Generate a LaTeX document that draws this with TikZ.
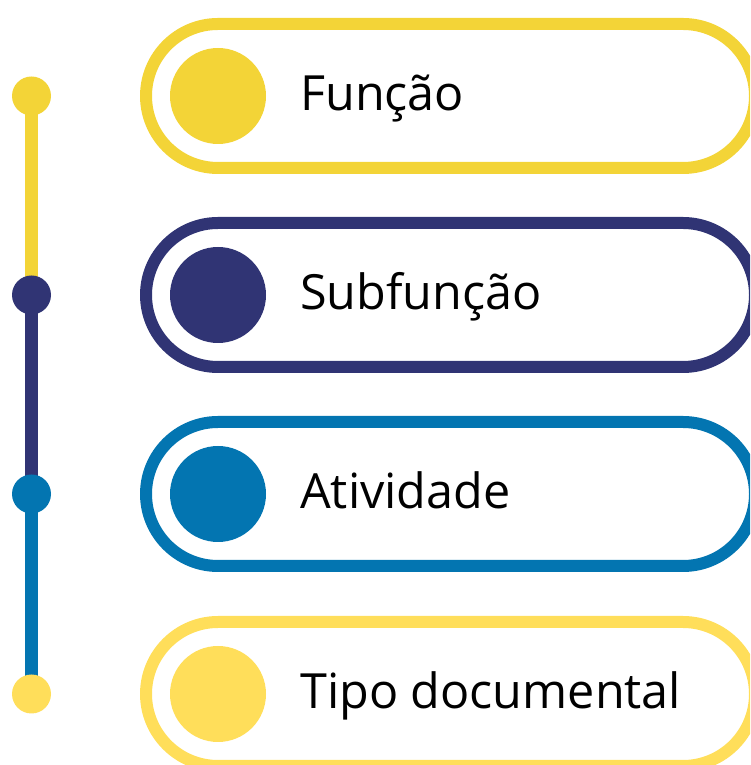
\documentclass[tikz,border=0pt]{standalone}
\usepackage{fontspec}
\setmainfont{Open Sans}
\usetikzlibrary{backgrounds}
\definecolor{funcyellow}{HTML}{F3D437}
\definecolor{subnavy}{HTML}{303474}
\definecolor{atvblue}{HTML}{0375B1}
\definecolor{tipoyellow}{HTML}{FFDE5A}

\begin{document}
\begin{tikzpicture}[x=1pt, y=1pt,
		pill/.style={draw, line width=12pt, rounded corners=72pt, minimum width=609pt, minimum height=144pt, inner sep=0pt},
		bullet/.style={circle, inner sep=0pt, minimum size=96pt},
		dot/.style={circle, inner sep=0pt, minimum size=39pt},
		label/.style={anchor=base west, inner sep=0pt, font=\fontsize{48.5}{58}\selectfont}]
				\useasboundingbox (0, 0) rectangle (750, 765);
				\clip (0, 0) rectangle (750, 765);
				\node[pill, draw=funcyellow] (PF)at(450.5, 669) {};
				\node[pill, draw=subnavy] (PS)at(450.5, 470) {};
				\node[pill, draw=atvblue] (PA)at(450.5, 271) {};
				\node[pill, draw=tipoyellow] (PT)at(450.5, 71) {};
				\node[bullet, fill=funcyellow] (BF)at(218, 669) {};
				\node[bullet, fill=subnavy] (BS)at(218, 470) {};
				\node[bullet, fill=atvblue] (BA)at(218, 271) {};
				\node[bullet, fill=tipoyellow] (BT)at(218, 71) {};
				\node[label] (LF)at(300, 654) {Função};
				\node[label] (LS)at(300, 455) {Subfunção};
				\node[label] (LA)at(300, 256) {Atividade};
				\node[label] (LT)at(300, 56) {Tipo documental};
				\node[dot, fill=funcyellow] (DF)at(31.5, 669) {};
				\node[dot, fill=subnavy] (DS)at(31.5, 470) {};
				\node[dot, fill=atvblue] (DA)at(31.5, 271) {};
				\node[dot, fill=tipoyellow] (DT)at(31.5, 71) {};
				\begin{scope}[on background layer]
				\draw[funcyellow, line width=13pt] (DF.center) -- (DS.center);
				\draw[subnavy, line width=13pt] (DS.center) -- (DA.center);
				\draw[atvblue, line width=13pt] (DA.center) -- (DT.center);
				\end{scope}
			\end{tikzpicture}
\end{document}
